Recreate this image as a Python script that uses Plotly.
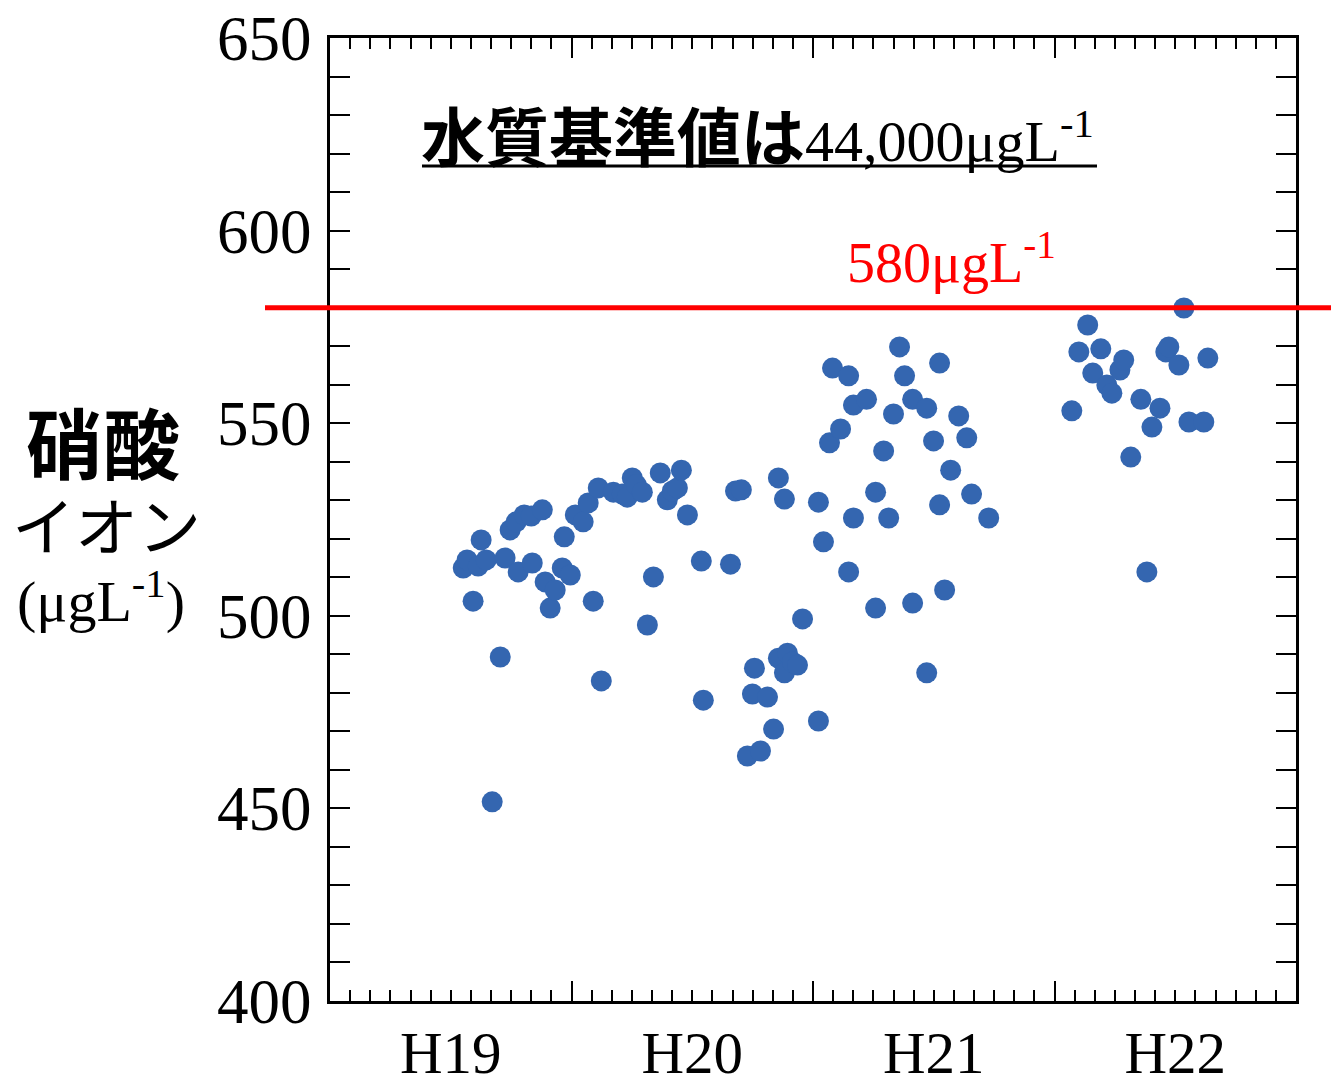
import plotly.graph_objects as go

# x: months from start of H19 (0 = start of H19, 12 = start of H20, ...)
months = [6.62, 6.81, 7.36, 7.51, 7.76, 7.11, 8.06, 8.46, 8.70, 8.95, 9.25, 9.35, 9.65, 10.05, 10.0,
          10.55, 10.69, 10.94, 11.19, 11.54, 11.64, 11.94, 12.19, 12.58, 12.83, 13.08, 13.48, 13.33,
          14.08, 14.52, 14.77, 15.02, 15.22, 15.52, 15.77, 16.07, 16.41, 16.76, 17.01, 17.26, 17.46,
          17.76, 18.45, 18.55, 19.90, 20.15, 20.44, 20.74, 20.99, 21.09, 21.39, 21.74, 22.04, 22.28,
          22.58, 22.28, 22.73, 22.58, 22.98, 23.23, 23.48, 24.27, 24.27, 24.52, 24.82, 24.97, 25.37,
          25.77, 25.77, 26.01, 26.01, 26.66, 27.11, 27.11, 27.51, 27.76, 28.00, 28.30, 28.55, 28.95,
          28.95, 29.65, 29.65, 29.99, 30.29, 30.29, 30.54, 30.84, 31.24, 31.64, 31.88, 32.73,
          36.86, 37.21, 37.65, 37.90, 38.30, 38.60, 38.85, 39.25, 39.44, 39.79, 40.29, 40.59, 40.84,
          41.24, 41.53, 41.68, 42.18, 42.43, 42.68, 43.42, 43.62]
nitrate = [512.4, 514.5, 512.9, 519.7, 514.5, 503.8, 451.7, 489.3, 515.0, 522.3, 524.4, 511.4, 526.2, 513.7, 525.9,
           527.5, 508.8, 502.0, 506.7, 512.4, 520.5, 510.6, 526.2, 524.4, 529.3, 503.8, 483.1, 533.2,
           532.1, 531.6, 530.8, 535.8, 534.0, 532.1, 497.6, 510.1, 537.1, 530.1, 532.4, 533.2, 537.8,
           526.2, 514.2, 478.1, 513.4, 532.4, 532.7, 463.6, 479.7, 486.4, 464.9, 478.9, 470.6, 535.8,
           530.3, 489.0, 490.3, 485.2, 488.0, 487.2, 499.2, 529.5, 472.7, 519.2, 544.9, 564.3, 548.5,
           562.3, 511.4, 554.7, 525.4, 556.2, 502.0, 532.1, 542.8, 525.4, 552.4, 569.8, 562.3, 556.2,
           503.3, 553.9, 485.2, 545.4, 565.6, 528.8, 506.7, 537.8, 551.9, 546.2, 531.6, 525.4,
           553.2, 568.5, 575.5, 563.0, 569.3, 559.9, 557.8, 563.8, 566.4, 541.2, 556.2, 511.4, 549.0,
           553.9, 568.5, 569.8, 565.1, 579.9, 550.3, 550.3, 566.9]

year_label_pos = [6, 18, 30, 42]
year_labels = ["H19", "H20", "H21", "H22"]
standard_value = 580

SERIF = "Liberation Serif, Times New Roman, serif"
CJK = "Noto Sans CJK JP"

# page coordinates helpers (figure sits at an 8px body offset)
PL, PR, PT, PB = 330, 1296, 38, 1001
def px(x):
    return (x - PL) / (PR - PL)
def py(y):
    return (PB - y) / (PB - PT)

fig = go.Figure()
fig.add_trace(go.Scatter(
    x=months, y=nitrate, mode="markers",
    marker=dict(size=21, color="#3466B0", line=dict(width=0)),
    showlegend=False, xaxis="x", yaxis="y"))
# invisible trace to activate label axis
fig.add_trace(go.Scatter(x=[None], y=[None], xaxis="x2", yaxis="y", showlegend=False))

fig.add_shape(type="line", xref="paper", yref="y",
              x0=px(265), x1=px(1345),
              y0=standard_value, y1=standard_value,
              line=dict(color="#FF0000", width=5), layer="above")

# underline of the title
fig.add_shape(type="line", xref="paper", yref="paper",
              x0=px(422), x1=px(1097), y0=py(166), y1=py(166),
              line=dict(color="black", width=3))

fig.add_annotation(
    xref="paper", yref="paper", x=px(419), y=py(133),
    xanchor="left", yanchor="middle", showarrow=False,
    text='<span style="font-family:Noto Sans CJK JP;font-weight:bold;font-size:64px">水質基準値は</span>44,000μgL<sup>-1</sup>',
    font=dict(family=SERIF, size=58, color="black"))

fig.add_annotation(
    xref="paper", yref="paper", x=px(845), y=py(258),
    xanchor="left", yanchor="middle", showarrow=False,
    text="580μgL<sup>-1</sup>",
    font=dict(family=SERIF, size=56, color="#FF0000"))

fig.add_annotation(
    xref="paper", yref="paper", x=px(103), y=py(440),
    xanchor="center", yanchor="middle", showarrow=False,
    text="<b>硝酸</b>", font=dict(family=CJK, size=77, color="black"))
fig.add_annotation(
    xref="paper", yref="paper", x=px(106), y=py(522),
    xanchor="center", yanchor="middle", showarrow=False,
    text="イオン", font=dict(family=CJK, size=63, color="black"))
fig.add_annotation(
    xref="paper", yref="paper", x=px(101), y=py(597),
    xanchor="center", yanchor="middle", showarrow=False,
    text="(μgL<sup>-1</sup>)", font=dict(family=SERIF, size=58, color="black"))

fig.update_layout(
    width=1331, height=1074,
    margin=dict(l=322, r=43, t=30, b=81, autoexpand=False),
    paper_bgcolor="white", plot_bgcolor="white",
    xaxis=dict(range=[0, 48], showgrid=False, zeroline=False, automargin=False,
               showline=True, linecolor="black", linewidth=3, mirror="allticks",
               ticks="inside", tickvals=[0, 12, 24, 36, 48], ticklen=20, tickwidth=2,
               tickcolor="black", showticklabels=False,
               minor=dict(dtick=1, tick0=0, ticks="inside", ticklen=11, tickwidth=2,
                          tickcolor="black", showgrid=False)),
    xaxis2=dict(range=[0, 48], overlaying="x", side="bottom", anchor="y", automargin=False,
                showgrid=False, zeroline=False, showline=False, ticks="",
                tickvals=year_label_pos, ticktext=year_labels,
                tickfont=dict(family=SERIF, size=59, color="black"),
                ticklabelstandoff=12, ticklabeloverflow="allow"),
    yaxis=dict(range=[400, 650], showgrid=False, zeroline=False, automargin=False,
               showline=True, linecolor="black", linewidth=3, mirror="allticks",
               ticks="inside", tick0=400, dtick=50, ticklen=20, tickwidth=2,
               tickcolor="black",
               tickfont=dict(family=SERIF, size=63, color="black"),
               ticklabelstandoff=3, ticklabeloverflow="allow",
               minor=dict(dtick=10, tick0=400, ticks="inside", ticklen=11, tickwidth=2,
                          tickcolor="black", showgrid=False)),
)

fig.write_html("out.html")
